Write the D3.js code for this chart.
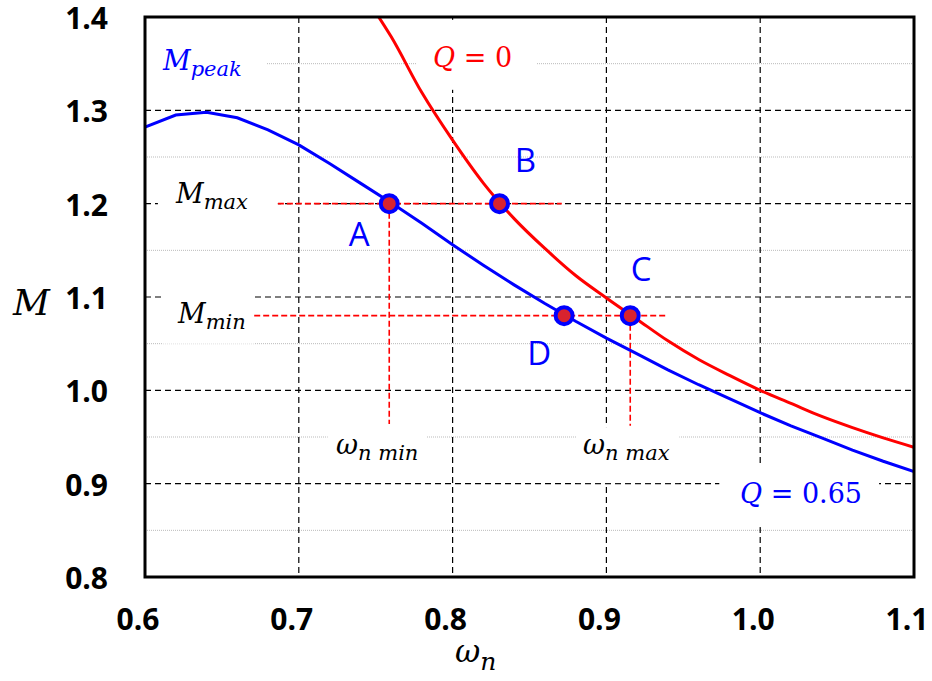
<!DOCTYPE html>
<html>
<head>
<meta charset="utf-8">
<script src="https://cdn.jsdelivr.net/npm/d3@7"></script>
<style>
  body { margin: 0; background: #fff; }
  .tick-label { font-family: "Open Sans", sans-serif; font-weight: bold; font-size: 30px; }
  .math { font-family: "DejaVu Serif", serif; font-style: italic; }
  .letter { font-family: "Open Sans", sans-serif; font-size: 33px; fill: #0000ff; }
</style>
</head>
<body>
<div id="chart"></div>
<script>

// frequency samples and gain values
let wnBlue = [0.60, 0.62, 0.64, 0.66, 0.68, 0.70, 0.72, 0.74, 0.76, 0.78, 0.80, 0.82, 0.84,
              0.86, 0.88, 0.90, 0.92, 0.94, 0.96, 0.98, 1.00, 1.02, 1.04, 1.06, 1.08, 1.10];
let mBlue = [1.282, 1.295, 1.298, 1.292, 1.279, 1.263, 1.243, 1.222, 1.201, 1.179, 1.156, 1.134, 1.113,
             1.093, 1.074, 1.056, 1.039, 1.022, 1.006, 0.991, 0.976, 0.962, 0.949, 0.936, 0.924, 0.913];

let wnRed = [0.75, 0.76, 0.78, 0.80, 0.82, 0.84, 0.86, 0.88, 0.90, 0.92, 0.94, 0.96, 0.98,
             1.00, 1.02, 1.04, 1.06, 1.08, 1.10];
let mRed = [1.405, 1.379, 1.319, 1.268, 1.222, 1.184, 1.152, 1.123, 1.099, 1.076, 1.053, 1.033, 1.016,
            1.000, 0.986, 0.972, 0.960, 0.949, 0.939];

let pointNames = ["A", "B", "C", "D"];
let pointWn = [0.7588, 0.8305, 0.9155, 0.8725];
let pointM = [1.200, 1.200, 1.080, 1.080];

let xTicks = [0.6, 0.7, 0.8, 0.9, 1.0, 1.1];
let yTicks = [0.8, 0.9, 1.0, 1.1, 1.2, 1.3, 1.4];
let yMinorTicks = [0.85, 0.95, 1.05, 1.15, 1.25, 1.35];

let width = 932;
let height = 681;
let padLeft = 145, padRight = 914, padTop = 17, padBottom = 577;

let svg = d3.select("#chart")
    .append("svg")
    .attr("width", width)
    .attr("height", height);

let x = d3.scaleLinear().domain([0.6, 1.1]).range([padLeft, padRight]);
let y = d3.scaleLinear().domain([0.8, 1.4]).range([padBottom, padTop]);

svg.append("clipPath").attr("id", "plot")
    .append("rect")
    .attr("x", padLeft).attr("y", padTop)
    .attr("width", padRight - padLeft).attr("height", padBottom - padTop);

/* minor grid */
svg.append("g")
    .selectAll("line")
    .data(yMinorTicks)
    .join("line")
    .attr("x1", padLeft).attr("x2", padRight)
    .attr("y1", d => y(d)).attr("y2", d => y(d))
    .attr("stroke", "#bbb")
    .attr("stroke-width", 1)
    .attr("stroke-dasharray", "1,1");

/* major grid */
let grid = svg.append("g")
    .attr("stroke", "#000")
    .attr("stroke-width", 1.2)
    .attr("stroke-dasharray", "6,4");

grid.selectAll(".gx")
    .data(xTicks.slice(1, -1))
    .join("line")
    .attr("x1", d => x(d)).attr("x2", d => x(d))
    .attr("y1", padTop).attr("y2", padBottom);

grid.selectAll(".gy")
    .data(yTicks.slice(1, -1))
    .join("line")
    .attr("x1", padLeft).attr("x2", padRight)
    .attr("y1", d => y(d)).attr("y2", d => y(d));

/* white boxes behind the labels, in data units */
let boxes = [
    [0.600, 0.679, 1.370, 1.311],
    [0.7766, 0.8545, 1.397, 1.322],
    [0.6084, 0.6864, 1.222, 1.177],
    [0.611, 0.671, 1.107, 1.050],
    [0.7188, 0.7831, 0.9606, 0.9113],
    [0.8805, 0.9474, 0.9606, 0.9006],
    [0.9734, 1.0773, 0.9220, 0.8535]
];
svg.append("g")
    .selectAll("rect")
    .data(boxes)
    .join("rect")
    .attr("x", d => x(d[0]))
    .attr("y", d => y(d[2]))
    .attr("width", d => x(d[1]) - x(d[0]))
    .attr("height", d => y(d[3]) - y(d[2]))
    .attr("fill", "#fff");

/* red guide lines */
let guides = svg.append("g")
    .attr("stroke", "#ff0000")
    .attr("stroke-width", 1.6)
    .attr("stroke-dasharray", "6,3");

guides.append("line")
    .attr("x1", x(0.6864)).attr("x2", x(0.871))
    .attr("y1", y(pointM[0])).attr("y2", y(pointM[0]));
guides.append("line")
    .attr("x1", x(0.671)).attr("x2", x(0.939))
    .attr("y1", y(pointM[2])).attr("y2", y(pointM[2]));
guides.append("line")
    .attr("x1", x(pointWn[0])).attr("x2", x(pointWn[0]))
    .attr("y1", y(pointM[0])).attr("y2", y(0.964));
guides.append("line")
    .attr("x1", x(pointWn[2])).attr("x2", x(pointWn[2]))
    .attr("y1", y(pointM[2])).attr("y2", y(0.962));

/* curves */
let line = d3.line()
    .x(d => x(d[0]))
    .y(d => y(d[1]));

let curves = svg.append("g").attr("clip-path", "url(#plot)");

curves.append("path")
    .datum(d3.zip(wnBlue, mBlue))
    .attr("d", line.curve(d3.curveLinear))
    .attr("fill", "none")
    .attr("stroke", "#0000ff")
    .attr("stroke-width", 3);

curves.append("path")
    .datum(d3.zip(wnRed, mRed))
    .attr("d", line.curve(d3.curveMonotoneX))
    .attr("fill", "none")
    .attr("stroke", "#ff0000")
    .attr("stroke-width", 3);

/* operating points */
svg.append("g")
    .selectAll("circle")
    .data(d3.zip(pointWn, pointM))
    .join("circle")
    .attr("cx", d => x(d[0]))
    .attr("cy", d => y(d[1]))
    .attr("r", 8.5)
    .attr("fill", "#d9232e")
    .attr("stroke", "#0000ff")
    .attr("stroke-width", 4);

let letterOffset = [[-30, 42], [26, -32], [11, -35], [-25, 49]];
svg.append("g")
    .selectAll("text")
    .data(pointNames)
    .join("text")
    .attr("class", "letter")
    .attr("text-anchor", "middle")
    .attr("x", (d, i) => x(pointWn[i]) + letterOffset[i][0])
    .attr("y", (d, i) => y(pointM[i]) + letterOffset[i][1])
    .text(d => d);

/* math labels */
function mathLabel(px, py, main, sub, color, size, subSize, drop) {
    let t = svg.append("text")
        .attr("class", "math")
        .attr("x", px)
        .attr("y", py)
        .attr("fill", color)
        .attr("font-size", size);
    t.append("tspan").text(main);
    t.append("tspan")
        .attr("font-size", subSize)
        .attr("dy", drop)
        .text(sub);
    return t;
}

mathLabel(163, 70, "M", "peak", "#0000ff", 27, 21, 6);
mathLabel(176, 203, "M", "max", "#000", 27, 21, 6);
mathLabel(178, 323, "M", "min", "#000", 27, 21, 6);
mathLabel(336, 454, "ω", "n min", "#000", 27, 21, 6);
mathLabel(583, 454, "ω", "n max", "#000", 27, 21, 6);

function qLabel(px, py, value, color) {
    let t = svg.append("text")
        .attr("x", px)
        .attr("y", py)
        .attr("fill", color)
        .attr("font-size", 27);
    t.append("tspan").attr("class", "math").text("Q");
    t.append("tspan").attr("font-family", "DejaVu Serif, serif").text(" = " + value);
}
qLabel(433, 67, "0", "#ff0000");
qLabel(740, 503, "0.65", "#0000ff");

/* frame */
svg.append("rect")
    .attr("x", padLeft).attr("y", padTop)
    .attr("width", padRight - padLeft).attr("height", padBottom - padTop)
    .attr("fill", "none")
    .attr("stroke", "#000")
    .attr("stroke-width", 3);

/* tick labels */
svg.append("g")
    .selectAll("text")
    .data(yTicks)
    .join("text")
    .attr("class", "tick-label")
    .attr("text-anchor", "end")
    .attr("x", 108)
    .attr("y", d => y(d) + 12)
    .text(d => d.toFixed(1));

svg.append("g")
    .selectAll("text")
    .data(xTicks)
    .join("text")
    .attr("class", "tick-label")
    .attr("text-anchor", "middle")
    .attr("x", d => x(d) - 7)
    .attr("y", 630)
    .text(d => d.toFixed(1));

/* axis titles */
svg.append("text")
    .attr("class", "math")
    .attr("x", 13)
    .attr("y", 315)
    .attr("font-size", 36)
    .text("M");

mathLabel(455, 662, "ω", "n", "#000", 31, 25, 8);

</script>
</body>
</html>
